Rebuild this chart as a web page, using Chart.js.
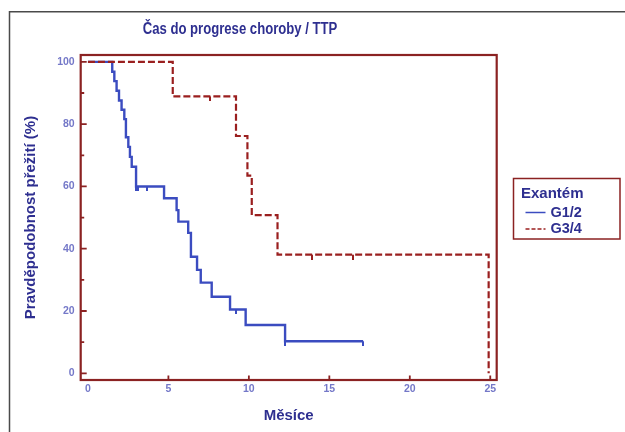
<!DOCTYPE html>
<html lang="cs">
<head>
<meta charset="utf-8">
<title>Čas do progrese choroby / TTP</title>
<script src="https://cdn.jsdelivr.net/npm/chart.js@4/dist/chart.umd.min.js"></script>
<style>
  html, body { margin: 0; padding: 0; background: #fff; }
</style>
</head>
<body>
<canvas id="ttp" width="625" height="432"></canvas>
<script>
const TITLE = 'Čas do progrese choroby / TTP';
const X_TITLE = 'Měsíce';
const Y_TITLE = 'Pravděpodobnost přežití (%)';
const LEGEND_TITLE = 'Exantém';

const MONTH_TICKS = [0, 5, 10, 15, 20, 25];
const PCT_TICKS = [0, 10, 20, 30, 40, 50, 60, 70, 80, 90, 100];

// G1/2 - Kaplan-Meier steps (month, % after the drop)
const G12_MONTHS = [0, 1.51, 1.64, 1.78, 1.93, 2.09, 2.26, 2.36, 2.51, 2.61, 2.72, 2.99,
                    4.73, 5.51, 5.62, 6.23, 6.40, 6.78, 7.01, 7.69, 8.83, 9.80, 12.25, 17.1];
const G12_SURV   = [100, 96.8, 93.8, 90.7, 87.6, 84.6, 81.6, 75.8, 72.7, 69.5, 66.3, 60.0,
                    56.2, 52.4, 48.7, 45.1, 37.4, 33.2, 29.1, 24.6, 20.5, 15.5, 10.3, 10.3];
const G12_CENS_MONTHS = [2.99, 3.13, 3.69, 9.18, 12.25, 17.1];
const G12_CENS_SURV   = [60, 60, 60, 20.5, 10.3, 10.3];

// G3/4
const G34_MONTHS = [0, 5.27, 9.20, 9.91, 10.18, 11.78, 24.9];
const G34_SURV   = [100, 88.9, 76.2, 63.5, 50.8, 38.1, 0];
const G34_CENS_MONTHS = [7.59, 13.95, 16.46];
const G34_CENS_SURV   = [88.9, 38.1, 38.1];

const BLUE = '#3b4cc0';
const RED = '#9a1f1f';
const BOX_RED = '#8b2222';
const NAVY = '#2e2f90';
const TICK_BLUE = '#7478c8';
const FONT = '"Liberation Sans", Arial, sans-serif';

const pts = (xs, ys) => xs.map((x, i) => ({ x, y: ys[i] }));

// small downward tick used as censor mark
function censorMark(color) {
  const c = document.createElement('canvas');
  c.width = 2; c.height = 10;
  const g = c.getContext('2d');
  g.fillStyle = color;
  g.fillRect(0, 5, 2, 5);
  return c;
}

const curves = [
  { label: 'G1/2', color: BLUE, dash: [] },
  { label: 'G3/4', color: RED, dash: [7, 3] },
];

const decor = {
  id: 'decor',
  beforeDraw(chart) {
    const ctx = chart.ctx;
    ctx.save();
    ctx.fillStyle = '#fff';
    ctx.fillRect(0, 0, chart.width, chart.height);
    ctx.strokeStyle = '#4a4a4a';
    ctx.lineWidth = 1.5;
    ctx.beginPath();
    ctx.moveTo(9.5, chart.height);
    ctx.lineTo(9.5, 11.8);
    ctx.lineTo(chart.width, 11.8);
    ctx.stroke();
    // title set in a narrow face
    ctx.fillStyle = NAVY;
    ctx.font = 'bold 16px ' + FONT;
    ctx.textAlign = 'center';
    ctx.textBaseline = 'middle';
    ctx.translate(240, 29.5);
    ctx.scale(0.82, 1);
    ctx.fillText(TITLE, 0, 0);
    ctx.restore();
  },
  afterDraw(chart) {
    const { ctx, chartArea: a, scales: { x, y } } = chart;
    ctx.save();
    // plot box + inward ticks
    ctx.strokeStyle = BOX_RED;
    ctx.lineWidth = 2.2;
    ctx.strokeRect(a.left, a.top, a.right - a.left, a.bottom - a.top);
    ctx.lineWidth = 1.8;
    ctx.beginPath();
    PCT_TICKS.forEach(v => {
      const py = y.getPixelForValue(v);
      ctx.moveTo(a.left, py);
      ctx.lineTo(a.left + (v % 20 ? 3.5 : 6), py);
    });
    MONTH_TICKS.forEach(v => {
      if (!v) return;
      const px = x.getPixelForValue(v);
      ctx.moveTo(px, a.bottom);
      ctx.lineTo(px, a.bottom - 4.5);
    });
    ctx.stroke();

    // legend box
    const lx = a.right + 16.8, ly = 178.5;
    ctx.lineWidth = 1.5;
    ctx.strokeRect(lx, ly, 106.5, 60.5);
    ctx.fillStyle = NAVY;
    ctx.font = 'bold 15px ' + FONT;
    ctx.textAlign = 'left';
    ctx.textBaseline = 'middle';
    ctx.fillText(LEGEND_TITLE, lx + 7.5, ly + 15);
    curves.forEach((c, i) => {
      const cy = ly + 34 + i * 16.5;
      ctx.strokeStyle = c.color;
      ctx.lineWidth = 1.5;
      ctx.setLineDash(c.dash.length ? [4, 2] : []);
      ctx.beginPath();
      ctx.moveTo(lx + 12, cy);
      ctx.lineTo(lx + 32, cy);
      ctx.stroke();
      ctx.setLineDash([]);
      ctx.font = 'bold 14.5px ' + FONT;
      ctx.fillText(c.label, lx + 37, cy);
    });
    ctx.restore();
  }
};

new Chart(document.getElementById('ttp'), {
  type: 'line',
  data: {
    datasets: [
      {
        label: 'G1/2', data: pts(G12_MONTHS, G12_SURV),
        borderColor: BLUE, borderWidth: 2.4, stepped: true, pointRadius: 0, fill: false, order: 2
      },
      {
        label: 'G3/4', data: pts(G34_MONTHS, G34_SURV),
        borderColor: RED, borderWidth: 2.2, borderDash: [7, 3], stepped: true, pointRadius: 0, fill: false, order: 1
      },
      {
        label: 'G1/2 cens', data: pts(G12_CENS_MONTHS, G12_CENS_SURV), showLine: false,
        pointStyle: censorMark(BLUE), pointRadius: 5, order: 0
      },
      {
        label: 'G3/4 cens', data: pts(G34_CENS_MONTHS, G34_CENS_SURV), showLine: false,
        pointStyle: censorMark(RED), pointRadius: 5, order: 0
      },
    ]
  },
  options: {
    responsive: false,
    animation: false,
    devicePixelRatio: 1,
    layout: { padding: { top: 55, right: 128.3, bottom: 0, left: 12 } },
    plugins: { legend: { display: false }, tooltip: { enabled: false } },
    scales: {
      x: {
        type: 'linear', min: -0.45, max: 25.4,
        afterBuildTicks: s => { s.ticks = MONTH_TICKS.map(v => ({ value: v })); },
        afterFit: s => { s.height = 52; },
        grid: { display: false, drawTicks: false },
        border: { display: false },
        ticks: { color: TICK_BLUE, padding: 3, maxRotation: 0, font: { family: FONT, size: 10.5, weight: 'bold' } },
        title: { display: true, text: X_TITLE, color: NAVY, padding: { top: 0, bottom: 7.5 },
                 font: { family: FONT, size: 15, weight: 'bold' } }
      },
      y: {
        type: 'linear', min: -2.15, max: 102.2,
        afterBuildTicks: s => { s.ticks = PCT_TICKS.map(v => ({ value: v })); },
        afterFit: s => { s.width = 68.7; },
        grid: { display: false, drawTicks: false },
        border: { display: false },
        ticks: { color: TICK_BLUE, padding: 6, font: { family: FONT, size: 10.5, weight: 'bold' },
                 callback: v => (v % 20 === 0 ? v : '') },
        title: { display: true, text: Y_TITLE, color: NAVY, padding: { top: 10, bottom: 0 },
                 font: { family: FONT, size: 15, weight: 'bold' } }
      }
    }
  },
  plugins: [decor]
});
</script>
</body>
</html>
